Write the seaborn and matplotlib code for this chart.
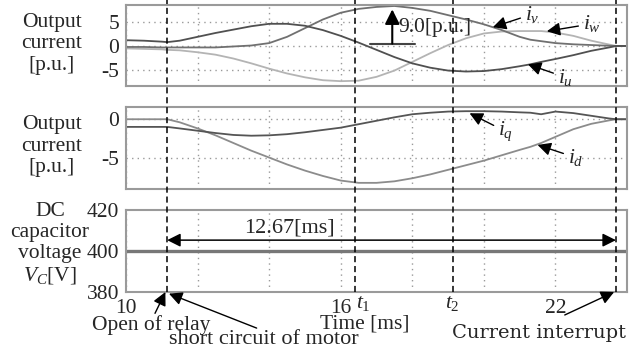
import matplotlib
matplotlib.use("Agg")
import matplotlib.pyplot as plt
import matplotlib.transforms as mtransforms
from matplotlib.lines import Line2D
import seaborn as sns

# sampled time axis [ms]
t_ms = [10, 10.5, 11, 11.15, 11.5, 12, 12.5, 13, 13.5, 14, 14.5, 15, 15.5, 16, 16.5, 17,
        17.5, 18, 18.5, 19, 19.5, 20, 20.5, 21, 21.3, 21.6, 22, 22.5, 23, 23.5, 23.7, 24]

# three-phase output currents [p.u.]
i_u = [1.2, 1.1, 0.9, 0.8, 1.1, 1.9, 2.7, 3.4, 4.1, 4.6, 4.6, 4.2, 3.3, 2.1, 0.7, -0.8,
       -2.3, -3.6, -4.5, -5.1, -5.3, -5.2, -4.8, -4.2, -3.8, -3.3, -2.7, -1.9, -1.0, -0.3, 0.0, 0.0]
i_v = [-0.2, -0.2, -0.3, -0.3, -0.3, -0.3, -0.3, -0.1, 0.1, 0.6, 1.9, 3.7, 5.5, 6.9, 7.7, 8.1,
       8.3, 7.9, 7.3, 6.4, 5.5, 4.5, 3.3, 1.9, 1.3, 1.0, 0.6, 0.35, 0.2, 0.05, 0.0, 0.0]
i_w = [-0.5, -0.6, -0.7, -0.8, -0.9, -1.3, -1.8, -2.6, -3.6, -4.7, -5.7, -6.5, -7.1, -7.3, -7.2, -6.4,
       -5.1, -3.3, -1.5, 0.2, 1.6, 2.6, 3.0, 3.1, 3.1, 3.1, 2.8, 2.1, 1.1, 0.3, 0.0, 0.0]

# dq currents [p.u.]
i_d = [0.0, 0.0, 0.0, 0.0, -0.4, -1.2, -2.1, -3.1, -4.1, -5.0, -5.9, -6.7, -7.4, -8.0, -8.3, -8.3,
       -8.1, -7.7, -7.2, -6.6, -6.0, -5.4, -4.7, -4.0, -3.6, -3.1, -2.3, -1.3, -0.6, -0.15, 0.0, 0.0]
i_q = [-1.0, -1.0, -1.0, -1.0, -1.2, -1.5, -1.8, -2.05, -2.15, -2.1, -1.95, -1.7, -1.4, -1.1, -0.65, -0.2,
       0.25, 0.65, 0.85, 1.0, 1.05, 1.05, 1.0, 0.9, 0.85, 0.65, 1.0, 0.8, 0.45, 0.1, 0.0, 0.0]

# DC capacitor voltage [V]
t_vc = [10, 24]
v_c = [400, 400]

# event times [ms]
t_relay = 11.15
t_1 = 16.39
t_2 = 19.13
t_interrupt = 23.69

x_ticks = [10, 12, 14, 16, 18, 20, 22, 24]
x_ticklabels = ["10", "", "", "16", "", "", "22", ""]

sns.set_theme(style="white")
plt.rcParams["font.family"] = ["Liberation Serif", "DejaVu Serif"]
plt.rcParams["mathtext.fontset"] = "custom"
plt.rcParams["mathtext.rm"] = "Liberation Serif"
plt.rcParams["mathtext.it"] = "Liberation Serif:italic"
plt.rcParams["axes.unicode_minus"] = False

FS = 15.5
FRAME = "#9a9a9a"
GRID = dict(color="#9a9a9a", linestyle=(0, (1, 3)), linewidth=1.0)

fig = plt.figure(figsize=(6.41, 3.49), dpi=100)
ax1 = fig.add_axes([0.1966, 0.7536, 0.7816, 0.232])
ax2 = fig.add_axes([0.1966, 0.4585, 0.7816, 0.235])
ax3 = fig.add_axes([0.1966, 0.1633, 0.7816, 0.235])

sns.lineplot(x=t_ms, y=i_w, ax=ax1, color="#b4b4b4", lw=1.3)
sns.lineplot(x=t_ms, y=i_v, ax=ax1, color="#707070", lw=1.3)
sns.lineplot(x=t_ms, y=i_u, ax=ax1, color="#505050", lw=1.3)
sns.lineplot(x=t_ms, y=i_d, ax=ax2, color="#8c8c8c", lw=1.3)
sns.lineplot(x=t_ms, y=i_q, ax=ax2, color="#555555", lw=1.3)
sns.lineplot(x=t_vc, y=v_c, ax=ax3, color="#777777", lw=2.4)

ax1.set_ylim(-8.3, 8.5)
ax1.set_yticks([-5, 0, 5])
ax2.set_ylim(-9.1, 1.6)
ax2.set_yticks([-5, 0])
ax3.set_ylim(380, 420)
ax3.set_yticks([380, 400, 420])

for ax in (ax1, ax2, ax3):
    ax.set_xlim(10, 24)
    ax.set_xticks(x_ticks)
    ax.grid(True, **GRID)
    ax.set_axisbelow(True)
    for sp in ax.spines.values():
        sp.set_color(FRAME)
        sp.set_linewidth(1.5)
    ax.tick_params(axis="y", direction="out", length=4, width=1, color=FRAME,
                   pad=1, labelsize=FS)
    ax.set_xlabel("")
    ax.set_ylabel("")

for ax in (ax1, ax2):
    ax.tick_params(axis="x", length=0, labelbottom=False)
ax3.set_xticklabels(x_ticklabels)
ax3.tick_params(axis="x", direction="out", length=5, width=1, color=FRAME,
                pad=0, labelsize=FS)
ax3.grid(False, axis="y")

# y labels
fig.text(52 / 641, 1 - 44 / 349, "Output\ncurrent\n[p.u.]", ha="center", va="center",
         fontsize=FS, linespacing=1.17)
fig.text(52 / 641, 1 - 146 / 349, "Output\ncurrent\n[p.u.]", ha="center", va="center",
         fontsize=FS, linespacing=1.17)
fig.text(50 / 641, 1 - 244 / 349, "DC\ncapacitor\nvoltage\n$V_C$[V]", ha="center", va="center",
         fontsize=FS, linespacing=1.15)

# dashed event lines through all panels
blend = mtransforms.blended_transform_factory(ax3.transData, fig.transFigure)
for tx in (t_relay, t_1, t_2, t_interrupt):
    fig.add_artist(Line2D([tx, tx], [1 - 292 / 349, 1.0], transform=blend, color="black",
                          lw=1.1, linestyle=(0, (4, 2.5))))

arrow = dict(arrowstyle="-|>", color="black", lw=1.0, mutation_scale=20, shrinkA=1, shrinkB=0)

# panel 1 annotations
ax1.plot([16.82, 18.07], [0.5, 0.5], color="#444444", lw=1.5)
ax1.annotate("", xy=(17.44, 7.6), xytext=(17.44, 0.5),
             arrowprops=dict(arrowstyle="-|>", color="black", lw=1.5, mutation_scale=22,
                             shrinkA=0, shrinkB=0))
ax1.text(17.62, 3.9, "9.0[p.u.]", ha="left", va="center", fontsize=FS)
ax1.annotate("$i_v$", xy=(20.25, 3.9), xytext=(21.15, 6.6), ha="left", va="center",
             fontsize=FS, arrowprops=arrow)
ax1.annotate("$i_w$", xy=(21.76, 3.06), xytext=(22.77, 4.6), ha="left", va="center",
             fontsize=FS, arrowprops=arrow)
ax1.annotate("$i_u$", xy=(21.23, -3.8), xytext=(22.07, -6.5), ha="left", va="center",
             fontsize=FS, arrowprops=arrow)

# panel 2 annotations
ax2.annotate("$i_q$", xy=(19.6, 0.78), xytext=(20.4, -1.6), ha="left", va="center",
             fontsize=FS, arrowprops=arrow)
ax2.annotate("$i_d$", xy=(21.5, -3.35), xytext=(22.35, -5.0), ha="left", va="center",
             fontsize=FS, arrowprops=arrow)

# panel 3 annotations
ax3.annotate("", xy=(t_relay, 405.3), xytext=(t_interrupt, 405.3),
             arrowprops=dict(arrowstyle="<|-|>", color="black", lw=1.1, mutation_scale=20,
                             shrinkA=0, shrinkB=0))
ax3.text(14.58, 411.2, "12.67[ms]", ha="center", va="center", fontsize=FS + 0.5)

xt = ax3.get_xaxis_transform()
ax3.text(t_1 + 0.05, -0.02, "$t_1$", transform=xt, ha="left", va="top", fontsize=FS)
ax3.text(t_2, -0.02, "$t_2$", transform=xt, ha="center", va="top", fontsize=FS)

fig.text(365 / 641, 1 - 324 / 349, "Time [ms]", ha="center", va="center", fontsize=FS)
fig.text(151 / 641, 1 - 325 / 349, "Open of relay", ha="center", va="center", fontsize=FS)
fig.text(264 / 641, 1 - 340 / 349, "short circuit of motor", ha="center", va="center",
         fontsize=16)
fig.text(539 / 641, 1 - 333 / 349, "Current interrupt", ha="center", va="center",
         fontsize=14, family=["DejaVu Serif"])

ax3.annotate("", xy=(t_relay - 0.05, 0.0), xycoords=xt, xytext=(10.81, -0.26), textcoords=xt,
             arrowprops=dict(arrow, shrinkA=0), annotation_clip=False)
ax3.annotate("", xy=(t_relay + 0.05, -0.02), xycoords=xt, xytext=(13.65, -0.44), textcoords=xt,
             arrowprops=dict(arrow, shrinkA=0), annotation_clip=False)
ax3.annotate("", xy=(t_interrupt - 0.05, 0.0), xycoords=xt, xytext=(22.26, -0.28), textcoords=xt,
             arrowprops=dict(arrow, shrinkA=0), annotation_clip=False)

fig.savefig("out.png", dpi=100)
